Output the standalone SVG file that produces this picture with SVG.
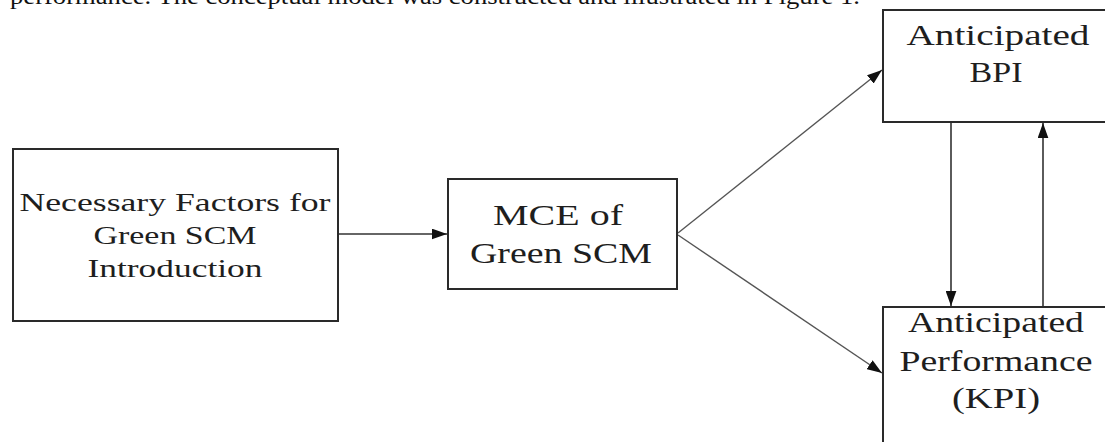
<svg xmlns="http://www.w3.org/2000/svg" width="1105" height="442" viewBox="0 0 1105 442">
  <defs>
    <marker id="ah" viewBox="0 0 14 10" refX="14" refY="5" markerWidth="15" markerHeight="11" markerUnits="userSpaceOnUse" orient="auto">
      <path d="M0,0 L14,5 L0,10 Z" fill="#111"/>
    </marker>
    <style>
      .box { fill: #ffffff; stroke: #2a2a2a; stroke-width: 2; }
      .t { font-family: "Liberation Serif", "Times New Roman", serif; fill: #1e1e1e; text-anchor: middle; }
      .s { font-size: 26px; }
      .l { font-size: 29px; }
      .c { fill: none; stroke: #333; stroke-width: 1.6; marker-end: url(#ah); }
      .d { fill: none; stroke: #555; stroke-width: 1.4; marker-end: url(#ah); }
    </style>
  </defs>
  <rect width="1105" height="442" fill="#ffffff"/>
  <text x="10" y="4" font-family="Liberation Serif, serif" font-size="24" fill="#111" textLength="850" lengthAdjust="spacingAndGlyphs">performance.  The conceptual model was constructed and illustrated in Figure 1.</text>

  <g id="connectors">
    <line class="c" x1="339" y1="234" x2="447" y2="234"/>
    <line class="d" x1="678" y1="233" x2="882" y2="70"/>
    <line class="d" x1="678" y1="235" x2="882" y2="373"/>
    <line class="c" x1="951" y1="123" x2="951" y2="306"/>
    <line class="c" x1="1043" y1="306" x2="1043" y2="123"/>
  </g>

  <g id="node-factors">
    <rect class="box" x="13" y="149" width="325" height="172"/>
    <text class="t s" x="175" y="211" textLength="311" lengthAdjust="spacingAndGlyphs">Necessary Factors for</text>
    <text class="t s" x="175" y="244" textLength="163" lengthAdjust="spacingAndGlyphs">Green SCM</text>
    <text class="t s" x="175" y="277" textLength="175" lengthAdjust="spacingAndGlyphs">Introduction</text>
  </g>

  <g id="node-mce">
    <rect class="box" x="448" y="179" width="229" height="110"/>
    <text class="t l" x="558" y="225" textLength="130" lengthAdjust="spacingAndGlyphs">MCE of</text>
    <text class="t l" x="561" y="263" textLength="182" lengthAdjust="spacingAndGlyphs">Green SCM</text>
  </g>

  <g id="node-bpi">
    <rect class="box" x="883" y="10" width="240" height="112"/>
    <text class="t l" x="998" y="45" textLength="183" lengthAdjust="spacingAndGlyphs">Anticipated</text>
    <text class="t l" x="996" y="82" textLength="53" lengthAdjust="spacingAndGlyphs">BPI</text>
  </g>

  <g id="node-kpi">
    <rect class="box" x="883" y="307" width="240" height="150"/>
    <text class="t l" x="996" y="332" textLength="176" lengthAdjust="spacingAndGlyphs">Anticipated</text>
    <text class="t l" x="996" y="371" textLength="193" lengthAdjust="spacingAndGlyphs">Performance</text>
    <text class="t l" x="996" y="408" textLength="88" lengthAdjust="spacingAndGlyphs">(KPI)</text>
  </g>
</svg>
